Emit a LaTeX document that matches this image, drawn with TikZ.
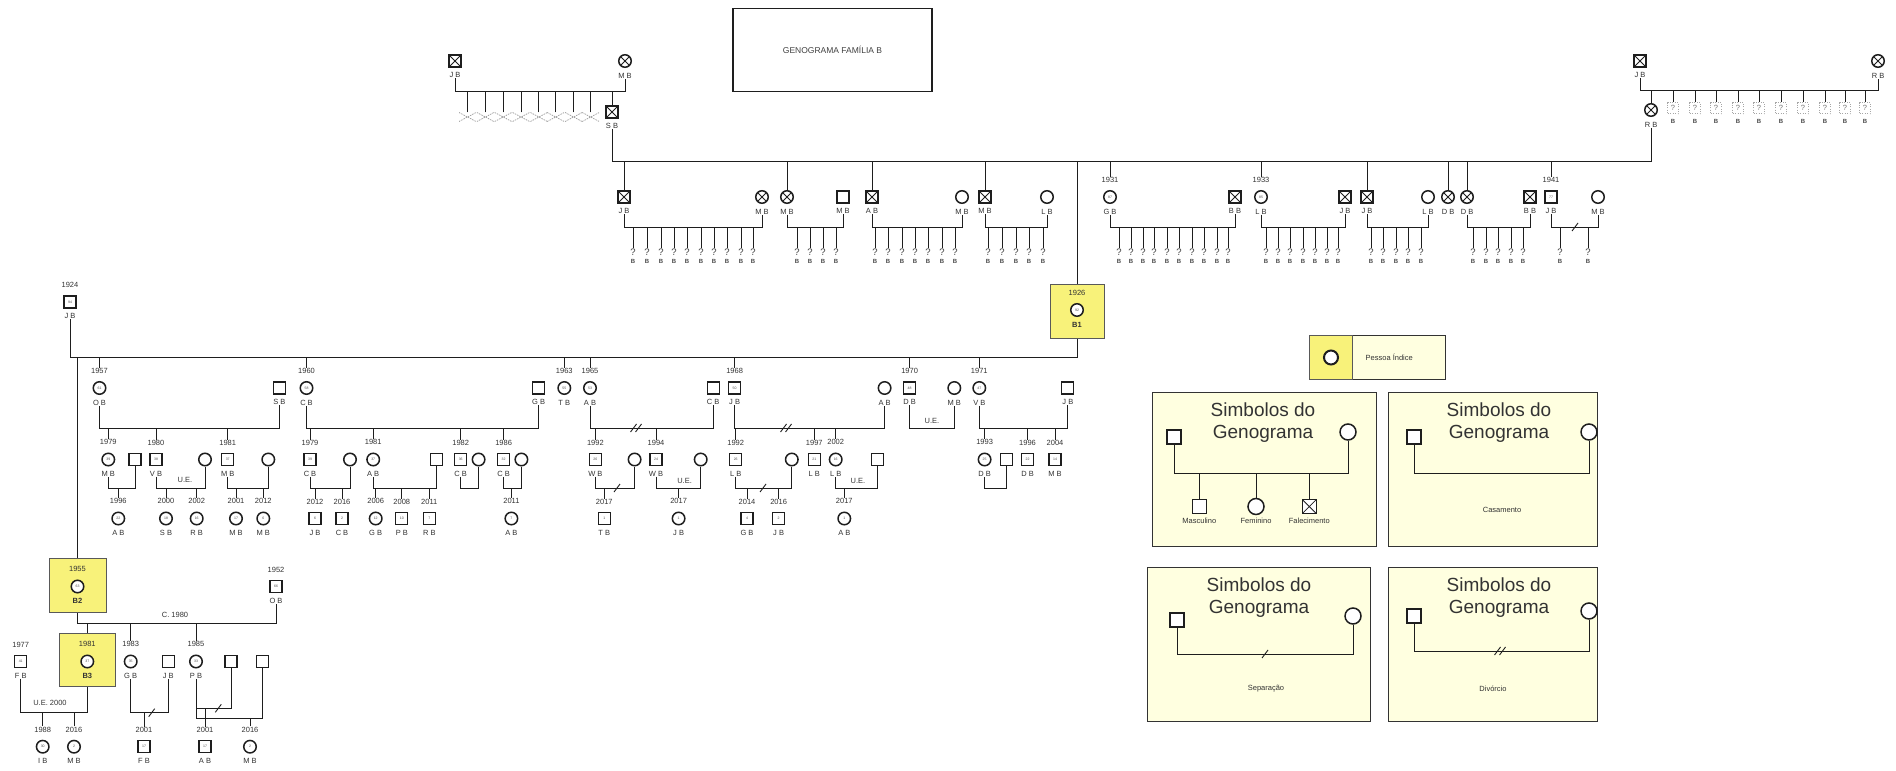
\documentclass[tikz,border=0pt]{standalone}
\usepackage{fontspec}
\setmainfont{Liberation Sans}
\usetikzlibrary{positioning}

\definecolor{amarelo}{RGB}{248,242,122}
\definecolor{creme}{RGB}{255,255,224}
\definecolor{linha}{RGB}{30,30,30}

\tikzset{
  famline/.style={draw=linha, line width=0.9pt},
  man/.style={draw=linha, line width=1.1pt, fill=white, minimum size=12pt, inner sep=0pt, font=\fontsize{3.5}{4}\selectfont, text=black!70},
  woman/.style={circle, draw=linha, line width=1.5pt, fill=white, minimum size=12.5pt, inner sep=0pt, font=\fontsize{3.5}{4}\selectfont, text=black!70},
  dead/.style={path picture={\draw[linha, line width=0.8pt] (path picture bounding box.north west) -- (path picture bounding box.south east) (path picture bounding box.south west) -- (path picture bounding box.north east);}},
  yr/.style={inner sep=0.3pt, font=\fontsize{7.5}{8}\selectfont, text=black!80},
  nm/.style={inner sep=0.3pt, font=\fontsize{7.5}{8}\selectfont, text=black!80},
  ue/.style={inner sep=0.5pt, font=\fontsize{7.5}{8}\selectfont, text=black!80},
  qmark/.style={inner sep=0.5pt, font=\fontsize{9.5}{10}\selectfont, text=black!75},
  kb/.style={inner sep=0.3pt, font=\bfseries\fontsize{6}{7}\selectfont, text=black!70},
  perdido/.style={minimum width=17pt, minimum height=9pt, inner sep=0pt, path picture={\draw[black!40, line width=0.7pt, dash pattern=on 1.5pt off 1pt] (path picture bounding box.north west) -- (path picture bounding box.south east) (path picture bounding box.south west) -- (path picture bounding box.north east);}},
  incerto/.style={draw=black!35, dash pattern=on 1pt off 1.5pt, minimum size=11pt, inner sep=0pt, font=\fontsize{7.5}{8}\selectfont, text=black!55},
  idxbox/.style={draw=black!65, line width=1pt, fill=amarelo},
  legbox/.style={draw=black!80, line width=1.2pt, fill=creme, anchor=north west},
  legtitle/.style={align=center, font=\fontsize{19}{22}\selectfont, text=black!80},
  legtxt/.style={inner sep=0.5pt, font=\fontsize{7.5}{8}\selectfont, text=black!80},
}

% pessoa: nome, estilo, posicao, idade, ano, rotulo
\newcommand{\pessoa}[6]{%
  \node[#2] (#1) at (#3) {#4};
  \node[yr, above=7pt of #1] (#1-y) {#5};
  \node[nm, below=4.5pt of #1] (#1-n) {#6};
}
% casal: ponto a, ponto b, linha
\newcommand{\casal}[3]{\draw[famline] (#1) -- (#1 |- #3) -- (#2 |- #3) -- (#2);}
% filhos desconhecidos: prefixo, linha, y, lista de x
\newcommand{\filhos}[4]{%
  \foreach \x [count=\i] in {#4} {
    \node[qmark] (#1\i) at (\x,#3) {?};
    \node[kb, below=2.5pt of #1\i] (#1\i-n) {B};
    \draw[famline] (#1\i.north) -- (#1\i.north |- #2);
  }}
\newcommand{\separa}[2]{\draw[famline] (#1-3,#2+4) -- (#1+3,#2-4);}
\newcommand{\divorcio}[2]{\separa{#1-2.5}{#2}\separa{#1+2.5}{#2}}

\begin{document}
\begin{tikzpicture}[x=1pt,y=-1pt]
\useasboundingbox (0,0) rectangle (1896,771);

% titulo
\node[draw=linha, line width=1.1pt, minimum width=199pt, minimum height=83pt, font=\fontsize{8.5}{9}\selectfont, text=black!75] (titulo) at (832.5,50.3) {GENOGRAMA FAMÍLIA B};

% avos (esquerda)
\pessoa{jbA}{man,dead}{455,61}{}{}{J B}
\pessoa{mbA}{woman,dead}{625,61}{}{}{M B}
\coordinate (m-A) at (0,91);
\casal{jbA-n.south}{mbA-n.south}{m-A}
\foreach \x [count=\i] in {467.5,485.4,503.2,521.1,538.9,555.7,573.6,590.7} {
  \node[perdido] (pA\i) at (\x,117) {};
  \draw[famline] (pA\i.north) -- (pA\i.north |- m-A);
}
\pessoa{sbA}{man,dead}{612,112}{}{}{S B}
\draw[famline] (sbA.north) -- (sbA.north |- m-A);

% avos (direita)
\pessoa{jbB}{man,dead}{1640,61}{}{}{J B}
\pessoa{rbB}{woman,dead}{1878,61}{}{}{R B}
\coordinate (m-B) at (0,90);
\casal{jbB-n.south}{rbB-n.south}{m-B}
\pessoa{rbC}{woman,dead}{1651,110}{}{}{R B}
\draw[famline] (rbC.north) -- (rbC.north |- m-B);
\foreach \x [count=\i] in {1673,1695,1716,1738,1759,1781,1803,1825,1845,1865} {
  \node[incerto] (uB\i) at (\x,108) {?};
  \node[kb, below=5pt of uB\i] (uB\i-n) {B};
  \draw[famline] (uB\i.north) -- (uB\i.north |- m-B);
}

% filhos de S B e R B
\coordinate (m-top) at (0,161);
\casal{sbA-n.south}{rbC-n.south}{m-top}
\pessoa{ja}{man,dead}{624,197}{}{}{J B}
\pessoa{mba}{woman,dead}{762,197}{}{}{M B}
\pessoa{mbb}{woman,dead}{787,197}{}{}{M B}
\pessoa{mbs}{man}{843,197}{}{}{M B}
\pessoa{abA}{man,dead}{872,197}{}{}{A B}
\pessoa{mbw}{woman}{962,197}{}{}{M B}
\pessoa{mbc}{man,dead}{985,197}{}{}{M B}
\pessoa{lbw}{woman}{1047,197}{}{}{L B}
\pessoa{gbA}{woman}{1110,197}{87}{1931}{G B}
\pessoa{bbA}{man,dead}{1235,197}{}{}{B B}
\pessoa{lbA}{woman}{1261,197}{85}{1933}{L B}
\pessoa{jbx}{man,dead}{1345,197}{}{}{J B}
\pessoa{jbC}{man,dead}{1367,197}{}{}{J B}
\pessoa{lbx}{woman}{1428,197}{}{}{L B}
\pessoa{dbA}{woman,dead}{1448,197}{}{}{D B}
\pessoa{dbB}{woman,dead}{1467,197}{}{}{D B}
\pessoa{bbB}{man,dead}{1530,197}{}{}{B B}
\pessoa{jbD}{man}{1551,197}{77}{1941}{J B}
\pessoa{mbz}{woman}{1598,197}{}{}{M B}
\foreach \p in {ja,mbb,abA,mbc,jbC,dbA,dbB}
  \draw[famline] (\p.north) -- (\p.north |- m-top);
\foreach \p in {gbA,lbA,jbD}
  \draw[famline] (\p-y.north) -- (\p-y.north |- m-top);

\coordinate (m-g1) at (0,227);
\casal{ja-n.south}{mba-n.south}{m-g1}
\casal{mbb-n.south}{mbs-n.south}{m-g1}
\casal{abA-n.south}{mbw-n.south}{m-g1}
\casal{mbc-n.south}{lbw-n.south}{m-g1}
\casal{gbA-n.south}{bbA-n.south}{m-g1}
\casal{lbA-n.south}{jbx-n.south}{m-g1}
\casal{jbC-n.south}{lbx-n.south}{m-g1}
\casal{dbB-n.south}{bbB-n.south}{m-g1}
\casal{jbD-n.south}{mbz-n.south}{m-g1}
\separa{1575}{227}
\filhos{ka}{m-g1}{252}{633,647,661,674,687,701,714,727,741,753}
\filhos{kb}{m-g1}{252}{797,810,823,836}
\filhos{kc}{m-g1}{252}{875,888,902,915,928,942,955}
\filhos{kd}{m-g1}{252}{988,1002,1016,1029,1043}
\filhos{ke}{m-g1}{252}{1119,1131,1143,1154,1167,1179,1192,1204,1217,1228}
\filhos{kf}{m-g1}{252}{1266,1278,1290,1303,1315,1327,1338}
\filhos{kg}{m-g1}{252}{1371,1383,1396,1408,1421}
\filhos{kh}{m-g1}{252}{1473,1486,1498,1511,1523}
\filhos{ki}{m-g1}{252}{1560,1588}

% pessoa indice B1
\node[idxbox, minimum width=54pt, minimum height=54pt] (b1box) at (1077,311) {};
\pessoa{b1}{woman}{1077,310}{92}{1926}{\textbf{B1}}
\draw[famline] (b1box.north) -- (b1box.north |- m-top);
\pessoa{jb24}{man}{70,302}{94}{1924}{J B}
\coordinate (m-g2) at (0,357.5);
\casal{jb24-n.south}{b1box.south}{m-g2}

% filhos de B1
\pessoa{obA}{woman}{99.5,388}{61}{1957}{O B}
\pessoa{sbH}{man}{279.3,388}{}{}{S B}
\pessoa{cbA}{woman}{306.5,388}{58}{1960}{C B}
\pessoa{gbH}{man}{538.6,388}{}{}{G B}
\pessoa{tbA}{woman}{564.3,388}{55}{1963}{T B}
\pessoa{abB}{woman}{590,388}{53}{1965}{A B}
\pessoa{cbH}{man}{713.2,388}{}{}{C B}
\pessoa{jbE}{man}{734.6,388}{50}{1968}{J B}
\pessoa{abW}{woman}{884.6,388}{}{}{A B}
\pessoa{dbC}{man}{909.6,388}{48}{1970}{D B}
\pessoa{mbW}{woman}{954.3,388}{}{}{M B}
\pessoa{vbA}{woman}{979.3,388}{47}{1971}{V B}
\pessoa{jbH}{man}{1067.9,388}{}{}{J B}
\foreach \p in {obA,cbA,tbA,abB,jbE,dbC,vbA}
  \draw[famline] (\p-y.north) -- (\p-y.north |- m-g2);

\coordinate (m-g3) at (0,428);
\casal{obA-n.south}{sbH-n.south}{m-g3}
\casal{cbA-n.south}{gbH-n.south}{m-g3}
\casal{abB-n.south}{cbH-n.south}{m-g3}
\divorcio{636}{428}
\casal{jbE-n.south}{abW-n.south}{m-g3}
\divorcio{786}{428}
\casal{dbC-n.south}{mbW-n.south}{m-g3}
\node[ue] (ueD) at (932,421) {U.E.};
\casal{vbA-n.south}{jbH-n.south}{m-g3}

% netos
\pessoa{mbC}{woman}{108.3,459.5}{39}{1979}{M B}
\pessoa{sq1}{man}{135,459.5}{}{}{}
\pessoa{vbB}{man}{156,459.5}{38}{1980}{V B}
\pessoa{ci1}{woman}{205,459.5}{}{}{}
\pessoa{mbD}{man}{227.7,459.5}{37}{1981}{M B}
\pessoa{ci2}{woman}{268.3,459.5}{}{}{}
\pessoa{cbB}{man}{310,459.5}{39}{1979}{C B}
\pessoa{ci3}{woman}{350,459.5}{}{}{}
\pessoa{abC}{woman}{373.2,459.5}{37}{1981}{A B}
\pessoa{sq2}{man}{436.4,459.5}{}{}{}
\pessoa{cbC}{man}{460.7,459.5}{36}{1982}{C B}
\pessoa{ci4}{woman}{478.6,459.5}{}{}{}
\pessoa{cbD}{man}{503.6,459.5}{32}{1986}{C B}
\pessoa{ci5}{woman}{521.4,459.5}{}{}{}
\pessoa{wbA}{man}{595.4,459.5}{26}{1992}{W B}
\pessoa{ci6}{woman}{634.6,459.5}{}{}{}
\pessoa{wbB}{man}{656,459.5}{24}{1994}{W B}
\pessoa{ci7}{woman}{700.7,459.5}{}{}{}
\pessoa{lbB}{man}{735.7,459.5}{26}{1992}{L B}
\pessoa{ci8}{woman}{791.8,459.5}{}{}{}
\pessoa{lbC}{man}{814.3,459.5}{21}{1997}{L B}
\pessoa{lbD}{woman}{835.7,459.5}{16}{2002}{L B}
\pessoa{sq3}{man}{877.5,459.5}{}{}{}
\pessoa{dbD}{woman}{984.6,459.5}{25}{1993}{D B}
\pessoa{sq4}{man}{1006.1,459.5}{}{}{}
\pessoa{dbE}{man}{1027.5,459.5}{22}{1996}{D B}
\pessoa{mbE}{man}{1055,459.5}{14}{2004}{M B}
\foreach \p in {mbC,vbB,mbD,cbB,abC,cbC,cbD,wbA,wbB,lbB,lbC,lbD,dbD,dbE,mbE}
  \draw[famline] (\p-y.north) -- (\p-y.north |- m-g3);

\coordinate (m-g4) at (0,488);
\casal{mbC-n.south}{sq1.south}{m-g4}
\casal{vbB-n.south}{ci1.south}{m-g4}
\node[ue] (ueA) at (185,480) {U.E.};
\casal{mbD-n.south}{ci2.south}{m-g4}
\casal{cbB-n.south}{ci3.south}{m-g4}
\casal{abC-n.south}{sq2.south}{m-g4}
\casal{cbC-n.south}{ci4.south}{m-g4}
\casal{cbD-n.south}{ci5.south}{m-g4}
\casal{wbA-n.south}{ci6.south}{m-g4}
\separa{617}{488}
\casal{wbB-n.south}{ci7.south}{m-g4}
\node[ue] (ueB) at (684.6,481) {U.E.};
\casal{lbB-n.south}{ci8.south}{m-g4}
\separa{763}{488}
\casal{lbD-n.south}{sq3.south}{m-g4}
\node[ue] (ueC) at (858,481) {U.E.};
\casal{dbD-n.south}{sq4.south}{m-g4}

% bisnetos
\pessoa{abD}{woman}{118.3,518.5}{22}{1996}{A B}
\pessoa{sbB}{woman}{166,518.5}{18}{2000}{S B}
\pessoa{rbD}{woman}{196.7,518.5}{16}{2002}{R B}
\pessoa{mbF}{woman}{236,518.5}{17}{2001}{M B}
\pessoa{mbG}{woman}{263.3,518.5}{6}{2012}{M B}
\pessoa{jbF}{man}{315,518.5}{6}{2012}{J B}
\pessoa{cbE}{man}{342,518.5}{2}{2016}{C B}
\pessoa{gbB}{woman}{375.7,518.5}{12}{2006}{G B}
\pessoa{pbA}{man}{401.8,518.5}{10}{2008}{P B}
\pessoa{rbE}{man}{429.3,518.5}{7}{2011}{R B}
\pessoa{abE}{woman}{511.4,518.5}{7}{2011}{A B}
\pessoa{tbB}{man}{604.3,518.5}{1}{2017}{T B}
\pessoa{jbG}{woman}{678.6,518.5}{1}{2017}{J B}
\pessoa{gbC}{man}{747,518.5}{4}{2014}{G B}
\pessoa{jbI}{man}{778.6,518.5}{2}{2016}{J B}
\pessoa{abF}{woman}{844.3,518.5}{1}{2017}{A B}
\foreach \p in {abD,sbB,rbD,mbF,mbG,jbF,cbE,gbB,pbA,rbE,abE,tbB,jbG,gbC,jbI,abF}
  \draw[famline] (\p-y.north) -- (\p-y.north |- m-g4);

% B2 e B3
\node[idxbox, minimum width=57pt, minimum height=54pt] (b2box) at (77.5,585.5) {};
\pessoa{b2}{woman}{77.5,586.5}{63}{1955}{\textbf{B2}}
\draw[famline] (b2box.north) -- (b2box.north |- m-g2);
\pessoa{obB}{man}{276,586.5}{66}{1952}{O B}
\coordinate (m-b2) at (0,623.3);
\casal{b2box.south}{obB-n.south}{m-b2}
\node[ue] (c80) at (175,615) {C. 1980};

\node[idxbox, minimum width=56pt, minimum height=53pt] (b3box) at (87.3,660.3) {};
\pessoa{b3}{woman}{87.3,661.5}{37}{1981}{\textbf{B3}}
\pessoa{fbA}{man}{20.7,661.5}{41}{1977}{F B}
\pessoa{gbD}{woman}{130.7,661.5}{35}{1983}{G B}
\pessoa{jbJ}{man}{168.3,661.5}{}{}{J B}
\pessoa{pbB}{woman}{196,661.5}{33}{1985}{P B}
\pessoa{sq5}{man}{231,661.5}{}{}{}
\pessoa{sq6}{man}{262.7,661.5}{}{}{}
\draw[famline] (b3box.north) -- (b3box.north |- m-b2);
\foreach \p in {gbD,pbB}
  \draw[famline] (\p-y.north) -- (\p-y.north |- m-b2);

\coordinate (m-b3) at (0,712.7);
\coordinate (m-p1) at (0,708.3);
\coordinate (m-p2) at (0,718.3);
\casal{fbA-n.south}{b3box.south}{m-b3}
\node[ue] (ue2000) at (50,702.7) {U.E. 2000};
\casal{gbD-n.south}{jbJ-n.south}{m-b3}
\separa{151.7}{712.7}
\casal{pbB-n.south}{sq5.south}{m-p1}
\separa{218.3}{708.3}
\casal{pbB-n.south}{sq6.south}{m-p2}

\pessoa{ibA}{woman}{42.7,746.7}{30}{1988}{I B}
\pessoa{mbH}{woman}{74,746.7}{2}{2016}{M B}
\pessoa{fbB}{man}{144,746.7}{17}{2001}{F B}
\pessoa{abG}{man}{205,746.7}{17}{2001}{A B}
\pessoa{mbI}{woman}{250,746.7}{2}{2016}{M B}
\foreach \p in {ibA,mbH,fbB}
  \draw[famline] (\p-y.north) -- (\p-y.north |- m-b3);
\draw[famline] (abG-y.north) -- (abG-y.north |- m-p1);
\draw[famline] (mbI-y.north) -- (mbI-y.north |- m-p2);

% legenda
\node[legbox, minimum width=136pt, minimum height=44pt] (leg0) at (1309,335) {};
\node[idxbox, anchor=north west, minimum width=43pt, minimum height=44pt] (leg0a) at (1309,335) {};
\node[woman, minimum size=14pt, line width=2pt] (leg0c) at (leg0a.center) {};
\node[legtxt, right=12pt of leg0a] (leg0t) {Pessoa Índice};

\node[legbox, minimum width=224pt, minimum height=154pt] (leg1) at (1152,392) {};
\node[legtitle] (leg1t) at (1263,423) {Simbolos do\\Genograma};
\node[man, minimum size=14pt] (leg1m) at (1174,437) {};
\node[woman, minimum size=16pt] (leg1f) at (1348,432) {};
\coordinate (m-l1) at (0,473);
\casal{leg1m.south}{leg1f.south}{m-l1}
\node[man, minimum size=14pt] (leg1a) at (1199.3,506.5) {};
\node[woman, minimum size=16pt] (leg1b) at (1256,506.5) {};
\node[man, dead, minimum size=14pt] (leg1c) at (1309.3,506.5) {};
\node[legtxt, below=3pt of leg1a] (leg1an) {Masculino};
\node[legtxt, below=2pt of leg1b] (leg1bn) {Feminino};
\node[legtxt, below=3pt of leg1c] (leg1cn) {Falecimento};
\foreach \p in {leg1a,leg1b,leg1c}
  \draw[famline] (\p.north) -- (\p.north |- m-l1);

\node[legbox, minimum width=209pt, minimum height=154pt] (leg2) at (1388,392) {};
\node[legtitle] (leg2t) at (1499,423) {Simbolos do\\Genograma};
\node[man, minimum size=14pt] (leg2m) at (1414,437) {};
\node[woman, minimum size=16pt] (leg2f) at (1589,432) {};
\coordinate (m-l2) at (0,473);
\casal{leg2m.south}{leg2f.south}{m-l2}
\node[legtxt] (leg2n) at (1502,510) {Casamento};

\node[legbox, minimum width=223pt, minimum height=154pt] (leg3) at (1147,567) {};
\node[legtitle] (leg3t) at (1259,598) {Simbolos do\\Genograma};
\node[man, minimum size=14pt] (leg3m) at (1177,620) {};
\node[woman, minimum size=16pt] (leg3f) at (1353,616) {};
\coordinate (m-l3) at (0,654);
\casal{leg3m.south}{leg3f.south}{m-l3}
\separa{1265}{654}
\node[legtxt] (leg3n) at (1266,689) {Separação};

\node[legbox, minimum width=209pt, minimum height=154pt] (leg4) at (1388,567) {};
\node[legtitle] (leg4t) at (1499,598) {Simbolos do\\Genograma};
\node[man, minimum size=14pt] (leg4m) at (1414,616) {};
\node[woman, minimum size=16pt] (leg4f) at (1589,611) {};
\coordinate (m-l4) at (0,651);
\casal{leg4m.south}{leg4f.south}{m-l4}
\divorcio{1500}{651}
\node[legtxt] (leg4n) at (1493,689) {Divórcio};
\end{tikzpicture}
\end{document}
